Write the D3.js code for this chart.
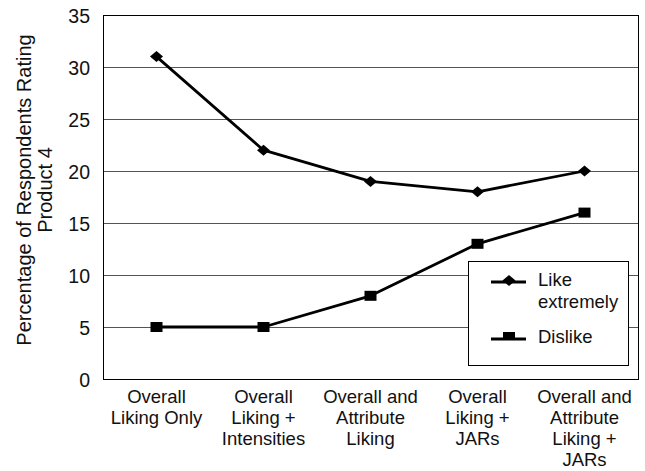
<!DOCTYPE html>
<html>
<head>
<meta charset="utf-8">
<script src="https://cdn.jsdelivr.net/npm/d3@7"></script>
<style>
  html, body { margin: 0; padding: 0; background: #fff; }
  svg text { font-family: "Liberation Sans", Arial, Helvetica, sans-serif; fill: #111; }
</style>
</head>
<body>
<svg id="chart" width="645" height="471"></svg>
<script>
// Survey approaches compared on the x axis
const categories = [
  ["Overall", "Liking Only"],
  ["Overall", "Liking +", "Intensities"],
  ["Overall and", "Attribute", "Liking"],
  ["Overall", "Liking +", "JARs"],
  ["Overall and", "Attribute", "Liking +", "JARs"]
];
const likeExtremely = [31, 22, 19, 18, 20];
const dislike = [5, 5, 8, 13, 16];
const yTicks = [0, 5, 10, 15, 20, 25, 30, 35];
const seriesNames = ["Like extremely", "Dislike"];
const yTitle = ["Percentage of Respondents Rating", "Product 4"];

const svg = d3.select("#chart");
const margin = { left: 103, right: 7, top: 15, bottom: 92 };
const W = 645, H = 471;

const x = d3.scaleBand()
  .domain(d3.range(categories.length))
  .range([margin.left, W - margin.right])
  .padding(0);
const y = d3.scaleLinear().domain([0, 35]).range([H - margin.bottom, margin.top]);

// horizontal gridlines
svg.append("g")
  .selectAll("line")
  .data(yTicks.filter(t => t > 0 && t < 35))
  .join("line")
  .attr("x1", margin.left).attr("x2", W - margin.right)
  .attr("y1", d => y(d)).attr("y2", d => y(d))
  .attr("stroke", "#555").attr("stroke-width", 1)
  .attr("shape-rendering", "crispEdges");

// plot frame
svg.append("rect")
  .attr("x", margin.left).attr("y", margin.top)
  .attr("width", W - margin.left - margin.right)
  .attr("height", H - margin.top - margin.bottom)
  .attr("fill", "none").attr("stroke", "#000").attr("stroke-width", 1)
  .attr("shape-rendering", "crispEdges");

// y axis tick labels
const yAxis = d3.axisLeft(y).tickValues(yTicks).tickSize(0).tickPadding(13);
const gy = svg.append("g").attr("transform", `translate(${margin.left},0)`).call(yAxis);
gy.select(".domain").remove();
gy.selectAll("text")
  .attr("font-size", 19.5)
  .attr("font-family", "'Liberation Sans', Arial, sans-serif")
  .attr("fill", "#111")
  .attr("dy", "0.36em");

// x axis category labels (multi-line)
const xLab = svg.append("g");
categories.forEach((lines, i) => {
  const t = xLab.append("text")
    .attr("text-anchor", "middle")
    .attr("font-size", 18.5)
    .attr("x", x(i) + x.bandwidth() / 2)
    .attr("y", 403);
  lines.forEach((ln, j) => {
    t.append("tspan")
      .attr("x", x(i) + x.bandwidth() / 2)
      .attr("y", 403 + j * 21)
      .text(ln);
  });
});

// y axis title
const yt = svg.append("text")
  .attr("transform", `translate(31,${(margin.top + H - margin.bottom) / 2 - 7}) rotate(-90)`)
  .attr("text-anchor", "middle")
  .attr("font-size", 20);
yTitle.forEach((ln, j) => {
  yt.append("tspan").attr("x", 0).attr("y", j * 21).text(ln);
});

const cx = i => x(i) + x.bandwidth() / 2;
const line = d3.line().x((d, i) => cx(i)).y(d => y(d));

// series lines
[likeExtremely, dislike].forEach(vals => {
  svg.append("path")
    .datum(vals)
    .attr("d", line)
    .attr("fill", "none")
    .attr("stroke", "#000")
    .attr("stroke-width", 2.8)
    .attr("stroke-linejoin", "round");
});

// markers
const diamond = (px, py) => `M${px},${py - 5.5}L${px + 6.5},${py}L${px},${py + 5.5}L${px - 6.5},${py}Z`;
svg.append("g").selectAll("path")
  .data(likeExtremely)
  .join("path")
  .attr("d", (d, i) => diamond(cx(i), y(d)))
  .attr("fill", "#000");
svg.append("g").selectAll("rect")
  .data(dislike)
  .join("rect")
  .attr("x", (d, i) => cx(i) - 6)
  .attr("y", d => y(d) - 5)
  .attr("width", 12).attr("height", 10)
  .attr("fill", "#000");

// legend
const lg = svg.append("g");
lg.append("rect")
  .attr("x", 468).attr("y", 261).attr("width", 160).attr("height", 104)
  .attr("fill", "#fff").attr("stroke", "#000").attr("stroke-width", 1)
  .attr("shape-rendering", "crispEdges");
const legendRows = [
  { y: 282, lines: ["Like", "extremely"], mark: "diamond" },
  { y: 339, lines: ["Dislike"], mark: "square" }
];
legendRows.forEach((r, k) => {
  lg.append("line")
    .attr("x1", 491).attr("x2", 526).attr("y1", r.y).attr("y2", r.y)
    .attr("stroke", "#000").attr("stroke-width", 2.8);
  if (r.mark === "diamond") {
    lg.append("path").attr("d", diamond(509, r.y - 1.5)).attr("fill", "#000");
  } else {
    lg.append("rect").attr("x", 503).attr("y", r.y - 7).attr("width", 12).attr("height", 8).attr("fill", "#000");
  }
  const t = lg.append("text").attr("font-size", 18.5).attr("x", 538);
  t.append("title").text(seriesNames[k]);
  r.lines.forEach((ln, j) => {
    t.append("tspan").attr("x", 538).attr("y", r.y + 4 + j * 22).text(ln);
  });
});
</script>
</body>
</html>
